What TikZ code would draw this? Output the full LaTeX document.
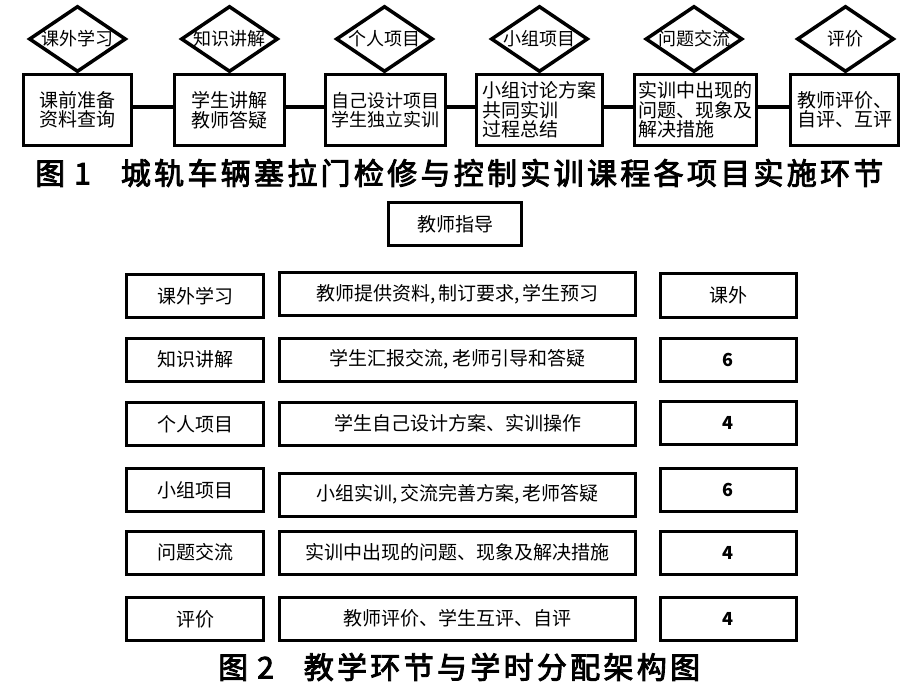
\documentclass[tikz,border=0pt]{standalone}
\usepackage{fontspec}
\setmainfont{Noto Sans CJK SC}
\usetikzlibrary{shapes.geometric}
\tikzset{
  fbox/.style={draw, line width=3.5pt, minimum height=71pt, inner sep=0pt, align=center, font=\fontsize{19}{19.5}\selectfont},
  fdia/.style={draw, line width=3.5pt, shape=diamond, minimum width=97pt, minimum height=66pt, inner sep=0pt},
  dtext/.style={font=\fontsize{18}{18}\selectfont, inner sep=0pt},
  fline/.style={line width=3.5pt},
  tbox/.style={draw, line width=3pt, minimum height=43pt, inner sep=0pt, align=center, font=\fontsize{19}{20}\selectfont},
  cA/.style={tbox, minimum width=137pt},
  cB/.style={tbox, minimum width=356pt},
  cC/.style={tbox, minimum width=136pt, font=\fontsize{18}{20}\selectfont\bfseries},
  ttl/.style={font=\fontsize{30}{32}\selectfont\addfontfeature{LetterSpace=11,FakeBold=3}, inner sep=0pt, anchor=west},
}
\begin{document}
\begin{tikzpicture}[x=1pt,y=-1pt]
\useasboundingbox[fill=white] (0,0) rectangle (912,684);
% Figure 1
\node[fbox, minimum width=108pt] (b1) at (77.5,110) {课前准备\\资料查询};
\node[fbox, minimum width=110pt] (b2) at (229.5,110) {学生讲解\\教师答疑};
\node[fbox, minimum width=120pt, font=\fontsize{18}{19}\selectfont] (b3) at (385.5,110) {自己设计项目\\学生独立实训};
\node[fbox, minimum width=126pt, align=left] (b4) at (539.5,110) {小组讨论方案\\共同实训\\过程总结};
\node[fbox, minimum width=122pt, align=left] (b5) at (695.5,110) {实训中出现的\\问题、现象及\\解决措施};
\node[fbox, minimum width=108pt, align=left] (b6) at (844.5,110) {教师评价、\\自评、互评};
\node[fdia] (d1) at (77.5,39) {};
\node[fdia] (d2) at (229.5,39) {};
\node[fdia] (d3) at (384.5,39) {};
\node[fdia] (d4) at (539.5,39) {};
\node[fdia] (d5) at (694,39) {};
\node[fdia] (d6) at (845.5,39) {};
\node[dtext] (t1) at (d1) {课外学习};
\node[dtext] (t2) at (d2) {知识讲解};
\node[dtext] (t3) at (d3) {个人项目};
\node[dtext] (t4) at (d4) {小组项目};
\node[dtext] (t5) at (d5) {问题交流};
\node[dtext] (t6) at (d6) {评价};
\draw[fline] ([yshift=3pt]b1.east) -- ([yshift=3pt]b2.west);
\draw[fline] ([yshift=3pt]b2.east) -- ([yshift=3pt]b3.west);
\draw[fline] ([yshift=3pt]b3.east) -- ([yshift=3pt]b4.west);
\draw[fline] ([yshift=3pt]b4.east) -- ([yshift=3pt]b5.west);
\draw[fline] ([yshift=3pt]b5.east) -- ([yshift=3pt]b6.west);
\node[ttl] (title1) at (35,173) {图\hspace{9pt}1\hspace{30pt}城轨车辆塞拉门检修与控制实训课程各项目实施环节};
% Figure 2
\node[tbox, minimum width=133pt] (g) at (455,224.5) {教师指导};
\node[cA] (a1) at (195,296) {课外学习};
\node[cB] (m1) at (457.5,294) {教师提供资料,\,制订要求,\,学生预习};
\node[cC, font=\fontsize{19}{20}\selectfont] (c1) at (728,295.5) {课外};
\node[cA] (a2) at (195,359.5) {知识讲解};
\node[cB] (m2) at (457.5,359.5) {学生汇报交流,\,老师引导和答疑};
\node[cC] (c2) at (728,360) {6};
\node[cA] (a3) at (195,424) {个人项目};
\node[cB] (m3) at (457.5,423.5) {学生自己设计方案、实训操作};
\node[cC] (c3) at (728,423) {4};
\node[cA] (a4) at (195,490) {小组项目};
\node[cB] (m4) at (457.5,494.5) {小组实训,\,交流完善方案,\,老师答疑};
\node[cC] (c4) at (728,490) {6};
\node[cA] (a5) at (195,552.5) {问题交流};
\node[cB] (m5) at (457.5,552.5) {实训中出现的问题、现象及解决措施};
\node[cC] (c5) at (728,552.5) {4};
\node[cA] (a6) at (195,619) {评价};
\node[cB] (m6) at (457.5,618.5) {教师评价、学生互评、自评};
\node[cC] (c6) at (728,618.5) {4};
\node[ttl] (title2) at (218,667) {图\hspace{9pt}2\hspace{30pt}教学环节与学时分配架构图};
\end{tikzpicture}
\end{document}
